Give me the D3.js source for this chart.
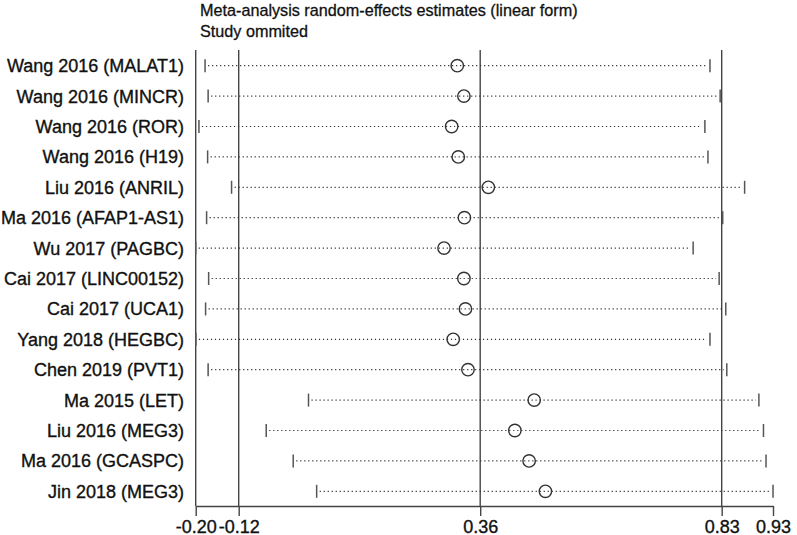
<!DOCTYPE html>
<html><head><meta charset="utf-8">
<script src="https://cdn.jsdelivr.net/npm/d3@7"></script>
<style>body{margin:0;background:#fff}svg{display:block}text{font-family:"Liberation Sans",Arial,sans-serif}</style>
</head><body><svg id="c" width="797" height="535"></svg>
<script>
const studies = ["Wang 2016 (MALAT1)","Wang 2016 (MINCR)","Wang 2016 (ROR)","Wang 2016 (H19)","Liu 2016 (ANRIL)","Ma 2016 (AFAP1-AS1)","Wu 2017 (PAGBC)","Cai 2017 (LINC00152)","Cai 2017 (UCA1)","Yang 2018 (HEGBC)","Chen 2019 (PVT1)","Ma 2015 (LET)","Liu 2016 (MEG3)","Ma 2016 (GCASPC)","Jin 2018 (MEG3)"];
const estimate = [0.311,0.324,0.300,0.313,0.372,0.325,0.285,0.324,0.327,0.303,0.332,0.462,0.424,0.452,0.484];
const lower = [-0.184,-0.178,-0.196,-0.179,-0.132,-0.181,-0.2024,-0.177,-0.183,-0.202,-0.178,0.019,-0.064,-0.011,0.035];
const upper = [0.807,0.827,0.797,0.803,0.875,0.832,0.774,0.825,0.838,0.807,0.840,0.903,0.912,0.917,0.9307];
const refLines = [-0.118,0.356,0.830];
const tickValues = [-0.2024,-0.118,0.356,0.830,0.9307];
const titleLines = ["Meta-analysis random-effects estimates (linear form)","Study ommited"];

const svg = d3.select("#c");
const x = d3.scaleLinear().domain([-0.2024,0.9307]).range([195.7,773]);
const y = d3.scalePoint().domain(studies).range([65.7,491.3]);
const plotTop = 50, axisY = 506;
const ink = "#111";

svg.selectAll("text.title").data(titleLines).join("text")
  .attr("class","title").attr("x",200).attr("y",(d,i)=>15.5+i*21)
  .attr("font-size",16.2).attr("fill",ink).attr("stroke",ink).attr("stroke-width",0.3).text(d=>d);

svg.append("line").attr("x1",x(-0.2024)).attr("x2",x(-0.2024)).attr("y1",plotTop).attr("y2",axisY)
  .attr("stroke","#444").attr("stroke-width",1.4);
svg.selectAll("line.ref").data(refLines).join("line").attr("class","ref")
  .attr("x1",d=>x(d)).attr("x2",d=>x(d)).attr("y1",plotTop).attr("y2",axisY)
  .attr("stroke","#444").attr("stroke-width",1.4);

const rows = studies.map((s,i)=>({s,e:estimate[i],lo:lower[i],hi:upper[i]}));
const g = svg.append("g");
g.selectAll("line.ci").data(rows).join("line").attr("class","ci")
  .attr("x1",d=>x(d.lo)+3).attr("x2",d=>x(d.hi)-3).attr("y1",d=>y(d.s)).attr("y2",d=>y(d.s))
  .attr("stroke","#333").attr("stroke-width",1.2).attr("stroke-dasharray","1.2,2.8");
["lo","hi"].forEach(k=>{
  g.selectAll("line.cap"+k).data(rows).join("line").attr("class","cap"+k)
    .attr("x1",d=>x(d[k])).attr("x2",d=>x(d[k])).attr("y1",d=>y(d.s)-6.5).attr("y2",d=>y(d.s)+6.5)
    .attr("stroke","#555").attr("stroke-width",1.5);
});
g.selectAll("circle").data(rows).join("circle")
  .attr("cx",d=>x(d.e)).attr("cy",d=>y(d.s)).attr("r",6.2)
  .attr("fill","none").attr("stroke","#333").attr("stroke-width",1.4);
svg.selectAll("text.lab").data(studies).join("text").attr("class","lab")
  .attr("x",184).attr("y",d=>y(d)+6.5).attr("text-anchor","end")
  .attr("font-size",18).attr("fill",ink).attr("stroke",ink).attr("stroke-width",0.35).text(d=>d);

const fmt = v => d3.format(".2f")(v).replace("\u2212","-");
const ax = d3.axisBottom(x).tickValues(tickValues).tickFormat(fmt).tickSize(10).tickSizeOuter(0);
const axg = svg.append("g").attr("transform",`translate(0,${axisY})`).call(ax);
axg.select(".domain").attr("stroke","#444").attr("stroke-width",1.4);
axg.selectAll(".tick line").attr("stroke","#444").attr("stroke-width",1.4);
axg.selectAll(".tick text").attr("font-size",18).attr("fill",ink).attr("stroke",ink).attr("stroke-width",0.35)
  .attr("dy",0).attr("y",26.5).attr("font-family","'Liberation Sans',Arial,sans-serif");
</script></body></html>
